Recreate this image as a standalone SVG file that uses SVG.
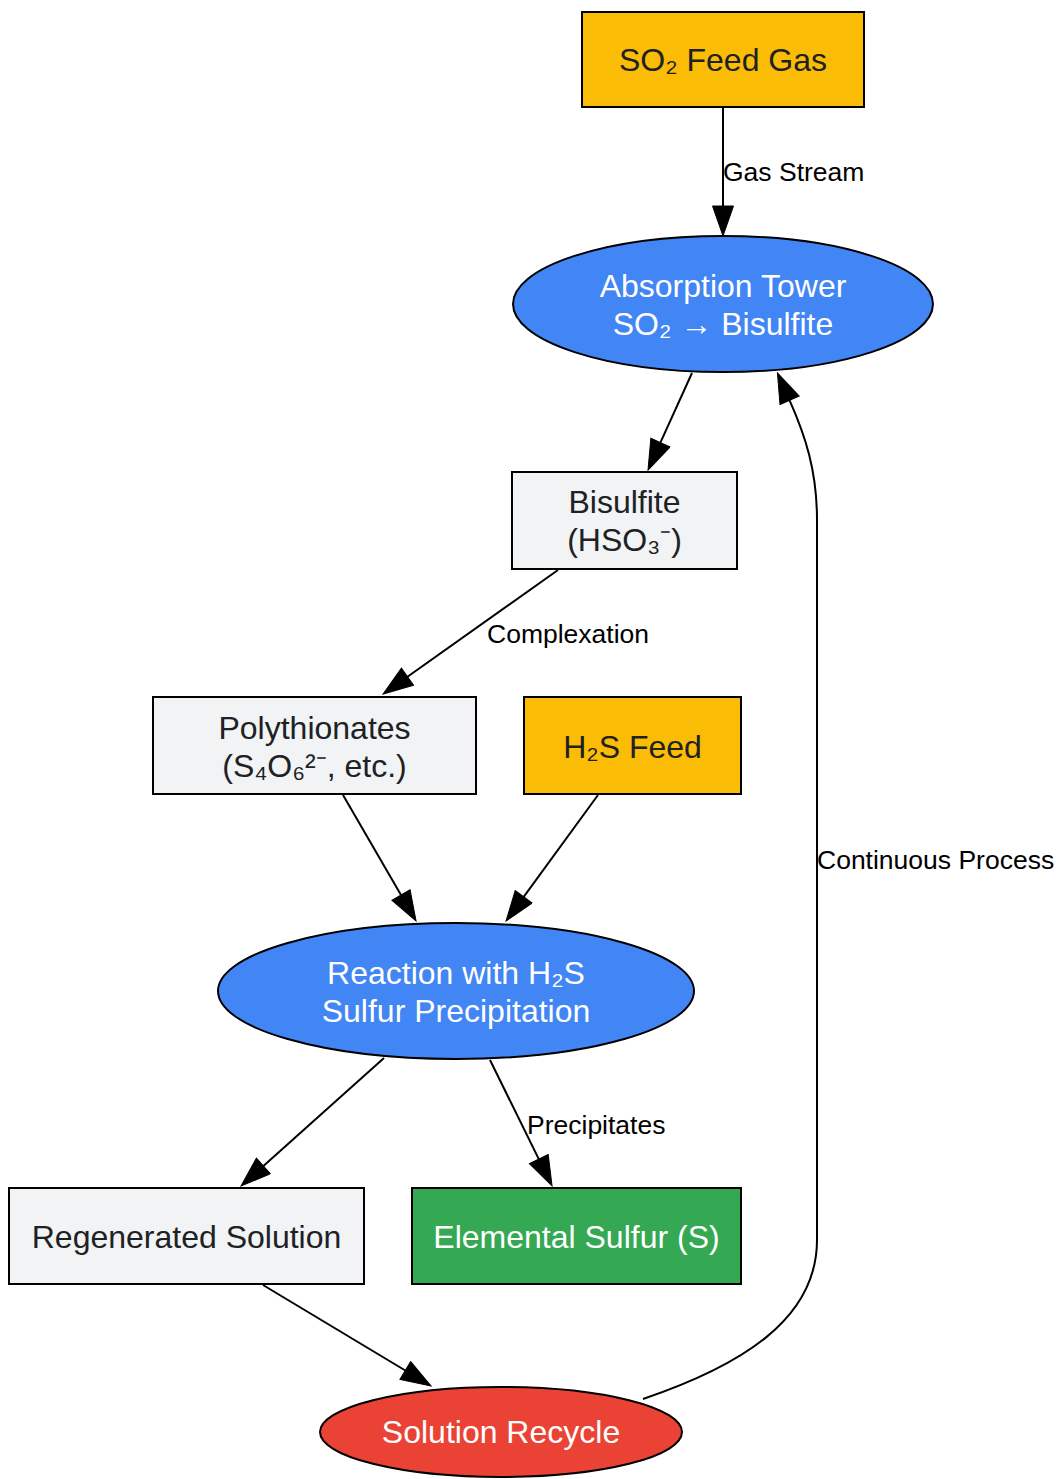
<svg xmlns="http://www.w3.org/2000/svg" width="1056" height="1479" viewBox="0 0 1056 1479">
<style>
.n{stroke:#000;stroke-width:2}
.t{font-family:"Liberation Sans",Arial,sans-serif;font-size:32px;text-anchor:middle;dominant-baseline:central}
.dk{fill:#202124}
.wh{fill:#ffffff}
.e{fill:none;stroke:#000;stroke-width:2}
.l{font-family:"Liberation Sans",Arial,sans-serif;font-size:26.5px;fill:#000;dominant-baseline:central}
</style>
<defs>
<marker id="ah" markerUnits="userSpaceOnUse" markerWidth="32" markerHeight="23" refX="1" refY="11" orient="auto">
<path d="M1,0.5 L31,11 L1,21.5 z" fill="#000" stroke="#000" stroke-width="1"/>
</marker>
</defs>
<rect width="1056" height="1479" fill="#fff"/>
<g id="connectors">
<path class="e" d="M723,107 L723,206" marker-end="url(#ah)"/>
<text class="l" x="723" y="172">Gas Stream</text>
<path class="e" d="M692,373 L660.4,442.7" marker-end="url(#ah)"/>
<path class="e" d="M558,570 L407.5,676.7" marker-end="url(#ah)"/>
<text class="l" x="487" y="634">Complexation</text>
<path class="e" d="M343,795 L401,895" marker-end="url(#ah)"/>
<path class="e" d="M598,795 L523.7,896.8" marker-end="url(#ah)"/>
<path class="e" d="M384,1058 L263.4,1166" marker-end="url(#ah)"/>
<path class="e" d="M490,1060 L538.8,1159.1" marker-end="url(#ah)"/>
<text class="l" x="527" y="1125">Precipitates</text>
<path class="e" d="M263,1285 L405.3,1370.5" marker-end="url(#ah)"/>
<path class="e" d="M643,1399 C740,1366 817,1320 817,1240 L817,520 C817,470 805,435 789.6,400.3" marker-end="url(#ah)"/>
<text class="l" x="817" y="860">Continuous Process</text>
</g>
<g id="so2feed">
<rect class="n" x="582" y="12" width="282" height="95" fill="#FBBC05"/>
<text class="t dk" x="723" y="60">SO₂ Feed Gas</text>
</g>
<g id="absorption">
<ellipse class="n" cx="723" cy="304" rx="210" ry="68" fill="#4285F4"/>
<text class="t wh" x="723" y="286">Absorption Tower</text>
<text class="t wh" x="723" y="324">SO₂ → Bisulfite</text>
</g>
<g id="bisulfite">
<rect class="n" x="512" y="472" width="225" height="97" fill="#F1F3F4"/>
<text class="t dk" x="624.5" y="502">Bisulfite</text>
<text class="t dk" x="624.5" y="540">(HSO₃⁻)</text>
</g>
<g id="polythionates">
<rect class="n" x="153" y="697" width="323" height="97" fill="#F1F3F4"/>
<text class="t dk" x="314.5" y="728">Polythionates</text>
<text class="t dk" x="314.5" y="766">(S₄O₆²⁻, etc.)</text>
</g>
<g id="h2sfeed">
<rect class="n" x="524" y="697" width="217" height="97" fill="#FBBC05"/>
<text class="t dk" x="632.5" y="747">H₂S Feed</text>
</g>
<g id="reaction">
<ellipse class="n" cx="456" cy="991" rx="238" ry="68" fill="#4285F4"/>
<text class="t wh" x="456" y="973">Reaction with H₂S</text>
<text class="t wh" x="456" y="1011">Sulfur Precipitation</text>
</g>
<g id="regenerated">
<rect class="n" x="9" y="1188" width="355" height="96" fill="#F1F3F4"/>
<text class="t dk" x="186.5" y="1237">Regenerated Solution</text>
</g>
<g id="sulfur">
<rect class="n" x="412" y="1188" width="329" height="96" fill="#34A853"/>
<text class="t wh" x="576.5" y="1237">Elemental Sulfur (S)</text>
</g>
<g id="recycle">
<ellipse class="n" cx="501" cy="1432" rx="181" ry="45" fill="#EA4335"/>
<text class="t wh" x="501" y="1432">Solution Recycle</text>
</g>
</svg>
